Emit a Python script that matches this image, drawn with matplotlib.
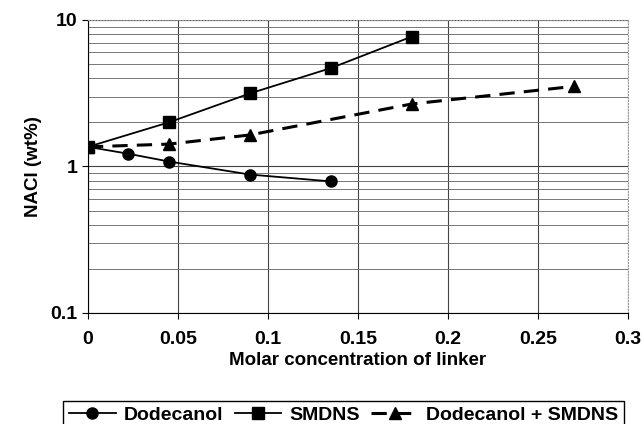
import matplotlib
matplotlib.use("Agg")
import matplotlib.pyplot as plt
from matplotlib.ticker import LogLocator, NullFormatter

plt.rcParams['font.family'] = ['Liberation Sans', 'DejaVu Sans']
plt.rcParams['font.weight'] = 'bold'

# data
dodec_x = [0, 0.0225, 0.045, 0.09, 0.135]
dodec_y = [1.36, 1.22, 1.08, 0.88, 0.79]
smdns_x = [0, 0.045, 0.09, 0.135, 0.18]
smdns_y = [1.36, 2.0, 3.15, 4.69, 7.7]
mix_x = [0, 0.045, 0.09, 0.18, 0.27]
mix_y = [1.36, 1.42, 1.64, 2.67, 3.52]

x_ticks = [0, 0.05, 0.1, 0.15, 0.2, 0.25, 0.3]
x_labels = ['0', '0.05', '0.1', '0.15', '0.2', '0.25', '0.3']
y_ticks = [0.1, 1, 10]
y_labels = ['0.1', '1', '10']

fig = plt.figure(figsize=(6.42, 4.24), dpi=100)
ax = fig.add_axes([0.137, 0.262, 0.841, 0.691])

ax.plot(dodec_x, dodec_y, color='black', lw=1.3, marker='o', ms=8, label='Dodecanol')
ax.plot(smdns_x, smdns_y, color='black', lw=1.3, marker='s', ms=8, label='SMDNS')
ax.plot(mix_x, mix_y, color='black', lw=2.2, ls=(0, (5, 3)), marker='^', ms=9,
        label='Dodecanol + SMDNS')

ax.set_yscale('log')
ax.set_ylim(0.1, 10)
ax.set_xlim(0, 0.3)
ax.set_xticks(x_ticks)
ax.set_xticklabels(x_labels)
ax.set_yticks(y_ticks)
ax.set_yticklabels(y_labels)
ax.yaxis.set_minor_locator(LogLocator(base=10, subs=range(2, 10)))
ax.yaxis.set_minor_formatter(NullFormatter())
ax.tick_params(axis='y', which='minor', length=0)
ax.tick_params(axis='both', which='major', labelsize=14, length=4, color='black')
ax.tick_params(axis='x', pad=9)

ax.grid(True, which='major', color='#444444', lw=0.8)
ax.grid(True, which='minor', axis='y', color='#777777', lw=0.7)
ax.set_axisbelow(True)

for s in ['top', 'right']:
    ax.spines[s].set_color('#999999')
    ax.spines[s].set_linestyle(':')
for s in ['left', 'bottom']:
    ax.spines[s].set_color('black')

ax.set_xlabel('Molar concentration of linker', fontsize=13.5, fontweight='bold', labelpad=3)
ax.set_ylabel('NACl (wt%)', fontsize=13.5, fontweight='bold', labelpad=6)

fig.legend(loc='upper center', bbox_to_anchor=(0.535, 0.078), ncol=3, fancybox=False,
           edgecolor='black', fontsize=14, handlelength=2.4, columnspacing=0.6,
           handletextpad=0.4, borderpad=0.3, framealpha=1)

fig.savefig('out.png', dpi=100)
